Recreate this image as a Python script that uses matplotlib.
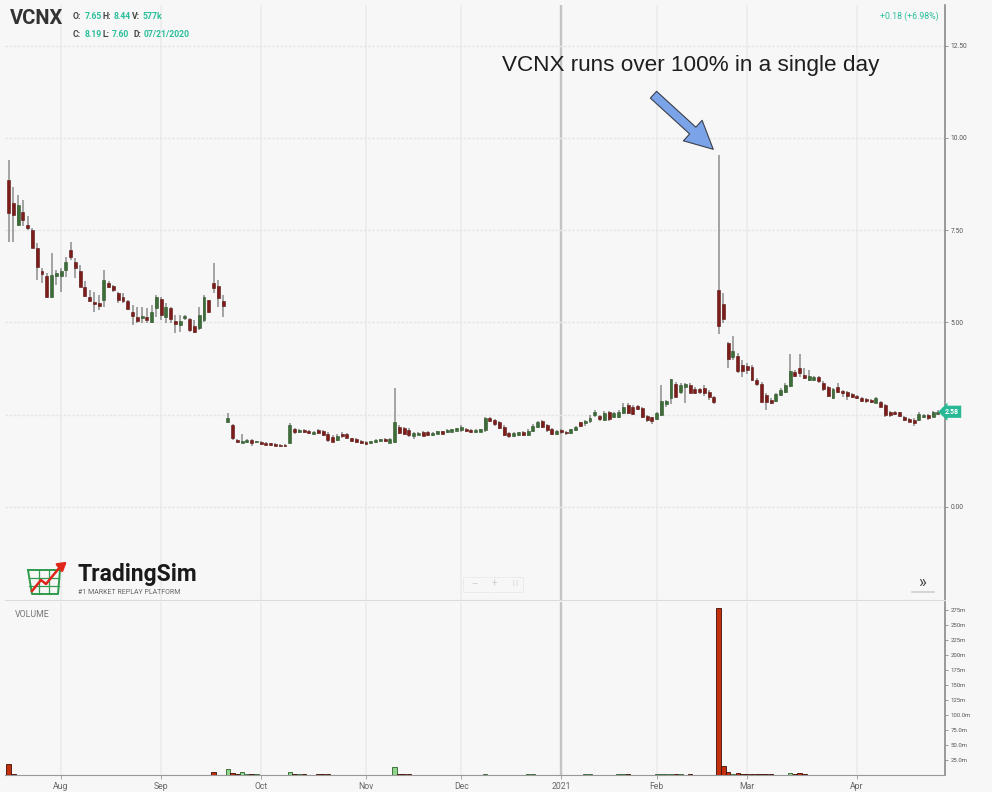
import numpy as np
import matplotlib.pyplot as plt

plt.rcParams['font.family'] = ['Roboto', 'DejaVu Sans']

# daily bars, one per trading day starting Jul 17 2020 (index 0)
opens = [8.86, 8.23, 7.65, 8.00, 7.64, 7.51, 7.01, 6.38, 6.26, 5.70,
         6.26, 6.26, 6.42, 6.96, 6.65, 6.38, 5.97, 5.70, 5.56, 5.53,
         5.61, 6.07, 5.99, 5.79, 5.70, 5.59, 5.29, 5.16, 5.11, 5.14,
         5.02, 5.38, 5.63, 5.16, 5.38, 5.05, 4.93, 5.11, 5.09, 4.89,
         4.84, 5.07, 5.61, 6.06, 5.99, 5.59, 2.29, 2.22, 1.82, 1.74,
         1.77, 1.81, 1.75, 1.77, 1.74, 1.72, 1.71, 1.69, 1.68, 1.73,
         2.12, 2.04, 2.08, 2.06, 1.98, 2.08, 2.07, 1.98, 1.89, 1.82,
         1.99, 1.98, 1.86, 1.84, 1.79, 1.77, 1.73, 1.76, 1.78, 1.84,
         1.74, 1.77, 2.18, 2.13, 2.09, 1.93, 1.96, 2.04, 2.03, 1.95,
         1.99, 2.05, 2.02, 2.04, 2.07, 2.08, 2.12, 2.08, 2.03, 2.04,
         2.09, 2.40, 2.36, 2.31, 2.18, 2.00, 1.93, 1.95, 2.03, 1.95,
         2.05, 2.18, 2.32, 2.21, 2.12, 1.99, 2.08, 2.04, 2.01, 2.08,
         2.29, 2.27, 2.34, 2.48, 2.47, 2.36, 2.58, 2.44, 2.45, 2.54,
         2.76, 2.72, 2.73, 2.67, 2.47, 2.43, 2.38, 2.49, 2.79, 2.95,
         3.33, 3.12, 3.24, 3.31, 3.19, 3.19, 3.22, 3.12, 2.97, 5.88,
         5.50, 4.45, 4.06, 4.09, 3.85, 3.82, 3.79, 3.44, 3.33, 3.04,
         2.90, 2.88, 3.04, 3.12, 3.28, 3.67, 3.76, 3.58, 3.44, 3.44,
         3.51, 3.35, 3.24, 2.94, 3.24, 3.14, 3.11, 3.06, 3.00, 2.94,
         2.92, 2.90, 2.83, 2.85, 2.76, 2.58, 2.58, 2.56, 2.45, 2.38,
         2.36, 2.36, 2.44, 2.49, 2.45, 2.52]
highs = [9.40, 8.68, 8.44, 8.32, 7.87, 7.55, 7.15, 6.47, 6.33, 6.88,
         6.42, 6.47, 6.78, 7.19, 6.74, 6.56, 6.11, 5.88, 5.83, 5.75,
         6.42, 6.11, 6.02, 5.83, 5.79, 5.61, 5.47, 5.43, 5.43, 5.38,
         5.47, 5.75, 5.70, 5.52, 5.43, 5.20, 5.20, 5.20, 5.11, 5.07,
         5.43, 5.75, 5.61, 6.60, 6.15, 5.75, 2.54, 2.26, 1.84, 1.99,
         1.84, 1.84, 1.80, 1.79, 1.76, 1.74, 1.73, 1.71, 1.70, 2.27,
         2.14, 2.12, 2.11, 2.08, 2.07, 2.10, 2.09, 2.03, 1.95, 1.99,
         2.02, 2.00, 1.88, 1.86, 1.81, 1.79, 1.79, 1.83, 1.85, 1.86,
         1.87, 3.22, 2.22, 2.18, 2.13, 2.02, 2.02, 2.07, 2.06, 2.02,
         2.06, 2.07, 2.10, 2.11, 2.14, 2.21, 2.14, 2.10, 2.10, 2.12,
         2.45, 2.43, 2.38, 2.34, 2.22, 2.04, 2.02, 2.03, 2.06, 2.10,
         2.24, 2.33, 2.36, 2.24, 2.15, 2.08, 2.10, 2.07, 2.12, 2.20,
         2.31, 2.36, 2.48, 2.63, 2.50, 2.60, 2.59, 2.56, 2.63, 2.81,
         2.82, 2.76, 2.76, 2.72, 2.49, 2.45, 2.56, 3.31, 2.90, 3.48,
         3.38, 3.36, 3.37, 3.35, 3.26, 3.22, 3.30, 3.17, 3.00, 9.54,
         5.79, 4.48, 4.62, 4.17, 3.98, 3.90, 3.85, 3.50, 3.38, 3.08,
         2.95, 3.08, 3.22, 3.36, 4.15, 3.72, 4.15, 3.76, 3.71, 3.55,
         3.56, 3.40, 3.28, 3.22, 3.35, 3.17, 3.15, 3.10, 3.03, 2.97,
         2.95, 2.93, 2.97, 2.88, 2.80, 2.60, 2.60, 2.58, 2.47, 2.40,
         2.40, 2.56, 2.52, 2.51, 2.60, 2.62]
lows = [7.18, 7.19, 7.60, 7.60, 7.51, 7.01, 6.15, 6.06, 5.66, 5.66,
        6.02, 5.83, 6.24, 6.69, 6.20, 5.95, 5.70, 5.56, 5.29, 5.34,
        5.43, 5.93, 5.83, 5.52, 5.52, 5.34, 4.93, 4.98, 4.98, 4.98,
        4.98, 5.16, 5.07, 4.98, 4.98, 4.71, 4.75, 5.07, 4.75, 4.72,
        4.80, 5.02, 5.25, 5.79, 5.43, 5.16, 2.27, 1.82, 1.72, 1.72,
        1.72, 1.66, 1.72, 1.69, 1.67, 1.66, 1.65, 1.63, 1.62, 1.71,
        1.99, 2.00, 2.00, 1.98, 1.95, 1.98, 1.91, 1.77, 1.76, 1.80,
        1.88, 1.86, 1.75, 1.73, 1.70, 1.69, 1.70, 1.73, 1.75, 1.76,
        1.72, 1.73, 1.98, 1.95, 1.90, 1.84, 1.94, 1.92, 1.92, 1.93,
        1.97, 1.97, 2.00, 2.02, 2.05, 2.04, 2.02, 2.01, 2.01, 2.02,
        2.04, 2.30, 2.20, 2.10, 1.93, 1.88, 1.90, 1.92, 1.93, 1.92,
        2.02, 2.15, 2.13, 2.04, 1.95, 1.95, 1.97, 1.96, 1.98, 2.06,
        2.17, 2.20, 2.27, 2.44, 2.34, 2.33, 2.34, 2.40, 2.40, 2.52,
        2.52, 2.50, 2.64, 2.40, 2.31, 2.26, 2.36, 2.47, 2.72, 2.79,
        2.97, 3.06, 2.81, 3.08, 3.06, 3.06, 3.00, 2.90, 2.80, 4.70,
        4.99, 3.76, 3.98, 3.63, 3.53, 3.60, 3.40, 3.27, 2.82, 2.63,
        2.79, 2.85, 3.00, 3.08, 3.24, 3.51, 3.51, 3.46, 3.40, 3.40,
        3.35, 3.15, 2.97, 2.92, 3.08, 2.99, 2.90, 2.96, 2.92, 2.85,
        2.83, 2.81, 2.81, 2.70, 2.45, 2.45, 2.49, 2.45, 2.33, 2.30,
        2.20, 2.34, 2.40, 2.36, 2.43, 2.50]
closes = [7.97, 7.91, 8.19, 7.78, 7.55, 7.03, 6.50, 6.31, 5.70, 6.29,
          6.33, 6.38, 6.65, 6.77, 6.47, 5.97, 5.72, 5.58, 5.50, 5.45,
          6.15, 5.97, 5.88, 5.61, 5.59, 5.36, 5.18, 5.05, 5.18, 5.07,
          5.27, 5.70, 5.20, 5.43, 5.09, 4.96, 5.05, 5.18, 4.80, 4.75,
          5.20, 5.70, 5.27, 5.93, 5.66, 5.45, 2.42, 1.86, 1.75, 1.80,
          1.81, 1.74, 1.78, 1.71, 1.69, 1.67, 1.66, 1.64, 1.64, 2.22,
          2.04, 2.09, 2.03, 2.00, 2.02, 2.00, 1.95, 1.81, 1.77, 1.93,
          1.92, 1.88, 1.78, 1.76, 1.72, 1.71, 1.78, 1.81, 1.83, 1.79,
          1.85, 2.31, 2.01, 1.99, 1.95, 2.00, 2.00, 1.93, 1.94, 2.01,
          2.05, 1.99, 2.08, 2.10, 2.13, 2.18, 2.05, 2.03, 2.09, 2.11,
          2.40, 2.34, 2.25, 2.13, 1.95, 1.91, 2.00, 2.02, 1.96, 2.07,
          2.20, 2.29, 2.18, 2.08, 1.98, 2.05, 2.02, 2.00, 2.10, 2.18,
          2.20, 2.33, 2.42, 2.58, 2.38, 2.54, 2.39, 2.54, 2.56, 2.72,
          2.55, 2.53, 2.66, 2.43, 2.36, 2.34, 2.54, 2.88, 2.88, 3.46,
          2.99, 3.31, 3.33, 3.10, 3.10, 3.12, 3.08, 2.97, 2.85, 4.89,
          5.09, 4.00, 4.23, 3.69, 3.69, 3.71, 3.44, 3.33, 2.85, 2.85,
          2.83, 3.06, 3.17, 3.31, 3.69, 3.55, 3.62, 3.49, 3.56, 3.53,
          3.40, 3.19, 3.00, 3.19, 3.12, 3.08, 3.00, 2.99, 2.94, 2.88,
          2.86, 2.84, 2.94, 2.72, 2.49, 2.49, 2.52, 2.47, 2.36, 2.31,
          2.27, 2.52, 2.49, 2.40, 2.58, 2.58]
# volume in millions of shares
volumes = [19.0, 1.2, 0.3, 0.3, 0.3, 0.3, 0.3, 0.3, 0.3, 0.3,
           0.3, 0.3, 0.3, 0.3, 0.3, 0.3, 0.3, 0.3, 0.3, 0.3,
           0.3, 0.3, 0.3, 0.3, 0.3, 0.3, 0.3, 0.3, 0.3, 0.3,
           0.3, 0.3, 0.3, 0.3, 0.3, 0.3, 0.3, 0.3, 0.3, 0.3,
           0.3, 0.3, 0.3, 5.5, 0.6, 0.6, 10.0, 3.7, 1.2, 4.5,
           1.2, 1.2, 1.0, 0.4, 0.4, 0.4, 0.4, 0.4, 0.4, 5.5,
           1.4, 1.2, 1.2, 0.4, 0.4, 1.2, 1.2, 1.2, 0.4, 0.4,
           0.4, 0.4, 0.4, 0.4, 0.4, 0.4, 0.4, 0.4, 0.4, 0.4,
           0.4, 12.8, 1.4, 1.2, 1.2, 0.4, 0.4, 0.4, 0.4, 0.4,
           0.4, 0.4, 0.4, 0.4, 0.4, 0.4, 0.4, 0.4, 0.4, 0.4,
           1.0, 0.3, 0.3, 0.3, 0.3, 0.3, 0.3, 0.3, 0.3, 1.0,
           1.0, 0.3, 0.3, 0.3, 0.3, 0.3, 0.3, 0.3, 0.3, 0.3,
           0.3, 1.0, 1.0, 0.3, 0.3, 0.3, 0.3, 0.3, 1.0, 1.0,
           1.0, 0.3, 0.3, 0.3, 0.3, 0.3, 1.5, 1.8, 1.5, 1.8,
           1.5, 1.2, 0.3, 1.0, 0.3, 0.3, 0.3, 0.3, 0.3, 278.0,
           15.5, 4.5, 1.2, 2.5, 1.0, 1.0, 1.0, 1.0, 1.0, 1.0,
           1.0, 0.3, 0.8, 0.3, 3.5, 1.0, 3.5, 1.0, 0.3, 0.3,
           0.3, 0.3, 0.3, 0.3, 0.3, 0.3, 0.3, 0.3, 0.3, 0.3,
           0.3, 0.3, 0.3, 0.3, 0.3, 0.3, 0.3, 0.3, 0.3, 0.3,
           0.3, 0.3, 0.3, 0.3, 0.3, 0.3]

month_idx = [11, 32, 53, 75, 95, 116, 136, 155, 178]
month_labels = ['Aug', 'Sep', 'Oct', 'Nov', 'Dec', '2021', 'Feb', 'Mar', 'Apr']
price_ticks = [0, 2.5, 5, 7.5, 10, 12.5]
price_labels = ['0.00', '', '5.00', '7.50', '10.00', '12.50']
vol_ticks = [25, 50, 75, 100, 125, 150, 175, 200, 225, 250, 275]
vol_labels = ['25.0m', '50.0m', '75.0m', '100.0m', '125m', '150m', '175m',
              '200m', '225m', '250m', '275m']

BG = '#f7f7f7'
GRID = '#ebebeb'
TEAL = '#2bbf9b'
W, H = 992, 792


def fx(px):
    return px / W


def fy(py):
    return 1 - py / H


fig = plt.figure(figsize=(9.92, 7.92), dpi=100, facecolor=BG)
ax = fig.add_axes([fx(5), fy(600), fx(945) - fx(5), fy(5) - fy(600)], facecolor=BG)
axv = fig.add_axes([fx(5), fy(775), fx(945) - fx(5), fy(602) - fy(775)], facecolor=BG, sharex=ax)

o = np.array(opens)
h = np.array(highs)
l = np.array(lows)
c = np.array(closes)
x = np.arange(len(c))
up = c >= o

# candles
ax.vlines(x, l, h, color='#8c8c8c', lw=1.1, zorder=2)
lo = np.minimum(o, c)
hb = np.maximum(np.abs(c - o), 0.035)
ax.bar(x[up], hb[up], bottom=lo[up], width=0.62, color='#3d6e38',
       edgecolor='#2c5228', lw=0.4, zorder=3)
ax.bar(x[~up], hb[~up], bottom=lo[~up], width=0.62, color='#7d1d1a',
       edgecolor='#5a1210', lw=0.4, zorder=3)

ax.set_xlim(-0.76, 196.5)
ax.set_ylim(-2.52, 13.6)
ax.set_axisbelow(True)
ax.yaxis.tick_right()
ax.set_yticks(price_ticks)
ax.set_yticklabels(price_labels)
ax.set_xticks(month_idx)
ax.tick_params(axis='x', length=0, labelbottom=False)
ax.tick_params(axis='y', length=2.5, width=0.6, color='#888', labelsize=4.8,
               labelcolor='#555', pad=1.5)
ax.grid(True, axis='y', color='#e6e6e6', lw=1.0, ls=(0, (2, 1)))
ax.grid(True, axis='x', color=GRID, lw=1.2)
ax.get_xgridlines()[5].set_color('#c4c4c4')
ax.get_xgridlines()[5].set_linewidth(1.7)
for s in ['top', 'left']:
    ax.spines[s].set_visible(False)
ax.spines['bottom'].set_color('#dcdcdc')
ax.spines['right'].set_color('#8a8a8a')
ax.spines['right'].set_linewidth(1.2)

# last price tag
ax.annotate(f'{closes[-1]:.2f}', xy=(1.0, closes[-1]), xycoords=('axes fraction', 'data'),
            xytext=(0, 0), textcoords='offset points', ha='left', va='center',
            fontsize=5, color='white', fontweight='bold', zorder=10, annotation_clip=False,
            bbox=dict(boxstyle='larrow,pad=0.3', fc='#27b896', ec='none'))

# arrow to the spike day
spike = int(np.argmax(h))
ax.annotate('', xy=(spike - 0.7, highs[spike] + 0.1), xytext=(-46, 42),
            textcoords='offset points',
            arrowprops=dict(arrowstyle='simple,head_length=1.0,head_width=1.0,tail_width=0.33',
                            mutation_scale=20, fc='#7ba4e8', ec='#3a3f4a', lw=0.8))
fig.text(fx(502), fy(66), 'VCNX runs over 100% in a single day', ha='left', va='center',
         fontsize=16.2, family=['Liberation Sans', 'DejaVu Sans'], color='#1e1e1e')

# volume
vcol = ['#8fd58c' if u else '#c4300e' for u in up]
vedge = ['#2e5e2b' if u else '#3d0e06' for u in up]
axv.bar(x, volumes, width=0.92, color=vcol, edgecolor=vedge, lw=0.6, zorder=3)
axv.set_ylim(0, 288)
axv.set_axisbelow(True)
axv.yaxis.tick_right()
axv.set_yticks(vol_ticks)
axv.set_yticklabels(vol_labels)
axv.tick_params(axis='y', length=2.5, width=0.6, color='#888', labelsize=4.3,
                labelcolor='#555', pad=1.5)
axv.set_xticks(month_idx)
axv.set_xticklabels(month_labels)
axv.tick_params(axis='x', length=3, width=0.6, color='#999', labelsize=6.2,
                labelcolor='#666', pad=2)
axv.grid(True, axis='x', color=GRID, lw=1.2)
axv.get_xgridlines()[5].set_color('#c4c4c4')
axv.get_xgridlines()[5].set_linewidth(1.7)
for s in ['top', 'left']:
    axv.spines[s].set_visible(False)
axv.spines['bottom'].set_color('#999')
axv.spines['right'].set_color('#8a8a8a')
axv.spines['right'].set_linewidth(1.2)
axv.text(0.011, 0.93, 'VOLUME', transform=axv.transAxes, fontsize=6.3,
         color='#777', ha='left', va='center')

# header
fig.text(fx(10), fy(19), 'VCNX', fontsize=14.5, fontweight='bold', color='#333',
         ha='left', va='center')
header = [(72.7, 16.7, 'O:', '#444'), (85, 16.7, '7.65', TEAL), (102.5, 16.7, 'H:', '#444'),
          (114, 16.7, '8.44', TEAL), (132, 16.7, 'V:', '#444'), (143, 16.7, '577k', TEAL),
          (72.7, 34.3, 'C:', '#444'), (85, 34.3, '8.19', TEAL), (102.5, 34.3, 'L:', '#444'),
          (112, 34.3, '7.60', TEAL), (133, 34.3, 'D:', '#444'), (144, 34.3, '07/21/2020', TEAL)]
for px, py, s, col in header:
    fig.text(fx(px), fy(py), s, fontsize=6.2, fontweight='bold', color=col,
             ha='left', va='center')
fig.text(fx(939), fy(16.7), '+0.18 (+6.98%)', fontsize=6.3, color=TEAL,
         ha='right', va='center')

# TradingSim logo
logo = fig.add_axes([fx(26), fy(599), fx(72) - fx(26), fy(557) - fy(599)])
logo.set_xlim(26, 72)
logo.set_ylim(599, 557)
logo.axis('off')
gcol = '#2f9c4c'
logo.plot([28, 60, 58, 32, 28], [570, 570, 594, 594, 570], color=gcol, lw=1.4)
for yy in [578, 586]:
    logo.plot([29, 59], [yy, yy], color=gcol, lw=0.9)
for xx in [39, 49]:
    logo.plot([xx, xx], [570, 594], color=gcol, lw=0.9)
logo.plot([32, 41, 46, 60], [591, 580, 584, 567], color='#e0251b', lw=1.8)
logo.annotate('', xy=(69, 560), xytext=(59, 568),
              arrowprops=dict(arrowstyle='-|>,head_length=0.5,head_width=0.3',
                              color='#e0251b', lw=1.8))
fig.text(fx(77), fy(574), 'TradingSim', fontsize=16.5, fontweight='bold', color='#1a1a1a',
         ha='left', va='center')
fig.text(fx(78), fy(592.5), '#1 MARKET REPLAY PLATFORM', fontsize=5.0, color='#666',
         ha='left', va='center')

# chart controls
fig.text(fx(474), fy(584), '\u2013', fontsize=7, color='#cfcfcf', ha='center', va='center')
fig.text(fx(494), fy(584), '+', fontsize=7, color='#cfcfcf', ha='center', va='center')
fig.text(fx(515), fy(584), '[ ]', fontsize=4.5, color='#cfcfcf', ha='center', va='center')
fig.patches.append(plt.Rectangle((fx(463), fy(592)), fx(523) - fx(463), fy(577) - fy(592),
                                 transform=fig.transFigure, fill=False, ec='#e2e2e2',
                                 lw=0.6, ls=(0, (2, 1))))
fig.text(fx(922), fy(582), '\u00bb', fontsize=12, color='#444', ha='center', va='center')
fig.lines.append(plt.Line2D([fx(912), fx(934)], [fy(591.5), fy(591.5)],
                            transform=fig.transFigure, color='#cfcfcf', lw=1.2))

fig.savefig('out.png', dpi=100, facecolor=BG)
